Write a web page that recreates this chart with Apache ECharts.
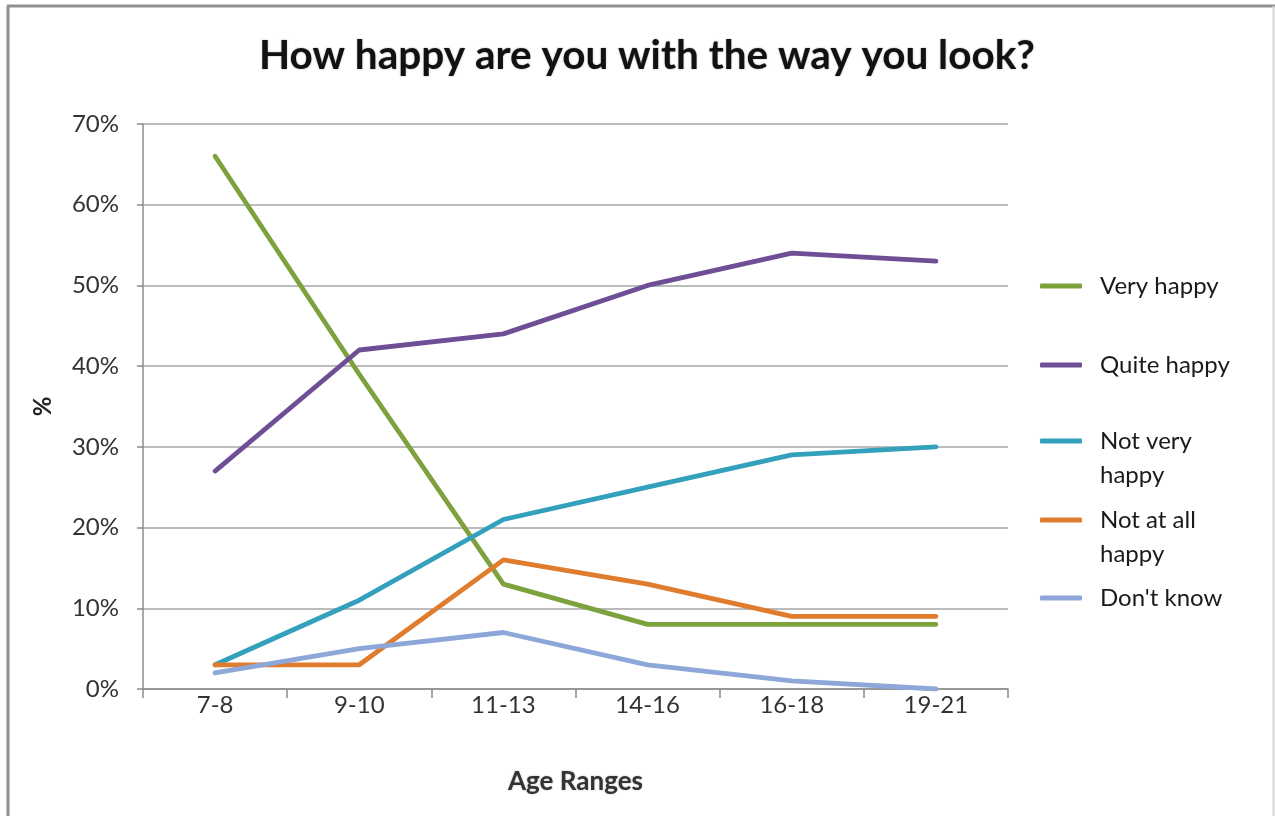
<!DOCTYPE html>
<html>
<head>
<meta charset="utf-8">
<script src="https://cdn.jsdelivr.net/npm/echarts@6/dist/echarts.min.js"></script>
<style>
html,body{margin:0;padding:0;background:#fff;}
#chart{width:1275px;height:816px;}
</style>
</head>
<body>
<div id="chart"></div>
<script>
const categories = ['7-8', '9-10', '11-13', '14-16', '16-18', '19-21'];
const veryHappy = [66, 39, 13, 8, 8, 8];
const quiteHappy = [27, 42, 44, 50, 54, 53];
const notVeryHappy = [3, 11, 21, 25, 29, 30];
const notAtAllHappy = [3, 3, 16, 13, 9, 9];
const dontKnow = [2, 5, 7, 3, 1, 0];
const seriesNames = ['Very happy', 'Quite happy', 'Not very happy', 'Not at all happy', "Don't know"];
// legend label: first line shown by the legend, second line (if any) below it
const legendFirstLines = ['Very happy', 'Quite happy', 'Not very', 'Not at all', "Don't know"];
const legendSecondLines = ['', '', 'happy', 'happy', ''];
const yTicks = [0, 10, 20, 30, 40, 50, 60, 70];

const colors = ['#7DA23D', '#6E4F96', '#33A0BC', '#E07C2E', '#8DA8D8'];
const FONT = 'Lato';
const values = [veryHappy, quiteHappy, notVeryHappy, notAtAllHappy, dontKnow];
const legendCenters = [286, 365, 441, 520, 598];
const LEG_FS = 24;

const chart = echarts.init(document.getElementById('chart'));
const legends = seriesNames.map((n, i) => ({
  data: [n],
  left: 1035,
  top: legendCenters[i] - 19,
  orient: 'vertical',
  icon: 'roundRect',
  itemWidth: 42,
  itemHeight: 5,
  selectedMode: false,
  formatter: () => legendFirstLines[i],
  textStyle: {
    fontFamily: FONT, fontSize: LEG_FS, color: '#1a1a1a', lineHeight: 28,
    padding: [0, 0, 0, 13]
  }
}));

const secondLineTexts = [];
legendSecondLines.forEach((t, i) => {
  if (t) {
    secondLineTexts.push({
      type: 'text', left: 1100, top: legendCenters[i] + 20,
      style: { text: t, fontFamily: FONT, fontSize: LEG_FS, fill: '#1a1a1a', lineHeight: 28 }
    });
  }
});

chart.setOption({
  animation: false,
  backgroundColor: '#fff',
  title: {
    text: 'How happy are you with the way you look?',
    left: 642, top: 30, textAlign: 'center',
    textStyle: {
      fontFamily: FONT, fontSize: 40.5, fontWeight: 'bold', color: '#111',
      textShadowColor: 'rgba(0,0,0,0.35)', textShadowBlur: 2
    }
  },
  legend: legends,
  grid: { left: 143, right: 267, top: 124, bottom: 127, containLabel: false },
  xAxis: {
    type: 'category',
    data: categories,
    boundaryGap: true,
    name: 'Age Ranges',
    nameLocation: 'middle',
    nameGap: 80,
    nameTextStyle: {
      fontFamily: FONT, fontSize: 26, fontWeight: 'bold', color: '#333',
      textShadowColor: 'rgba(0,0,0,0.3)', textShadowBlur: 2
    },
    axisLine: { lineStyle: { color: '#8c8c8c', width: 1.5 } },
    axisTick: { show: true, alignWithLabel: false, length: 9, lineStyle: { color: '#8c8c8c', width: 1.5 } },
    axisLabel: { fontFamily: FONT, fontSize: 24, color: '#333', margin: 4 }
  },
  yAxis: {
    type: 'value',
    min: 0, max: 70, interval: 10,
    name: '%',
    nameLocation: 'middle',
    nameGap: 88,
    nameRotate: 90,
    nameTextStyle: { fontFamily: FONT, fontSize: 24, fontWeight: 'bold', color: '#222' },
    axisLine: { show: true, lineStyle: { color: '#8c8c8c', width: 1.5 } },
    axisTick: { show: true, length: 6, lineStyle: { color: '#8c8c8c', width: 1.5 } },
    axisLabel: {
      fontFamily: FONT, fontSize: 24, color: '#333', margin: 24,
      formatter: v => (yTicks.indexOf(v) >= 0 ? v + '%' : '')
    },
    splitLine: { show: true, lineStyle: { color: '#a6a6a6', width: 1.5 } }
  },
  series: seriesNames.map((n, i) => ({
    name: n,
    type: 'line',
    data: values[i],
    symbol: 'none',
    smooth: false,
    lineStyle: { color: colors[i], width: 4.8, cap: 'round', join: 'round' },
    itemStyle: { color: colors[i] }
  })),
  graphic: secondLineTexts.concat([
    { type: 'line', shape: { x1: 7, y1: 6, x2: 1275, y2: 6 }, style: { stroke: '#909090', lineWidth: 3 } },
    { type: 'line', shape: { x1: 8, y1: 6, x2: 8, y2: 816 }, style: { stroke: '#909090', lineWidth: 3 } },
    { type: 'line', shape: { x1: 1273.5, y1: 6, x2: 1273.5, y2: 816 }, style: { stroke: '#d8d8d8', lineWidth: 2 } }
  ])
});
</script>
</body>
</html>
